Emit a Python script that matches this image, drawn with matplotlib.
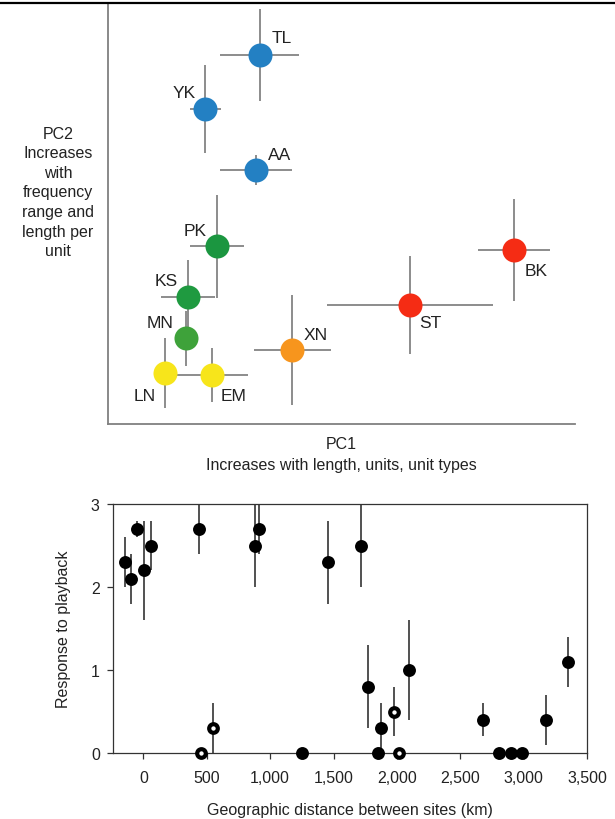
import numpy as np
import matplotlib
matplotlib.use("Agg")
from matplotlib import pyplot as plt
from matplotlib.lines import Line2D
from matplotlib.ticker import FuncFormatter

plt.rcParams['font.family'] = ['Liberation Sans', 'DejaVu Sans']
plt.rcParams['font.size'] = 11.5

# --- top panel: song PCA, site means with error bars (arbitrary PC units)
sites = ['TL', 'YK', 'AA', 'PK', 'KS', 'MN', 'LN', 'EM', 'XN', 'ST', 'BK']
pc1 = [3.25, 2.08, 3.17, 2.33, 1.71, 1.67, 1.22, 2.23, 3.95, 6.47, 8.70]
pc1_err = [0.85, 0.33, 0.78, 0.58, 0.58, 0.10, 0.20, 0.77, 0.82, 1.78, 0.77]
pc2 = [8.79, 7.50, 6.05, 4.23, 3.03, 2.04, 1.21, 1.17, 1.76, 2.83, 4.14]
pc2_err = [1.10, 1.05, 0.36, 1.23, 0.88, 0.65, 0.84, 0.65, 1.31, 1.17, 1.22]
site_colors = ['#2380c3', '#2380c3', '#2380c3', '#1b9640', '#1f9a40', '#3ea23a',
               '#f7e51b', '#f7e51b', '#f7951d', '#f52c14', '#f52c14']
# where each site name sits relative to its dot (points)
label_offsets = [(15.6, 12.5), (-15, 12), (17.3, 11.3), (-15.6, 11.2),
                 (-15.6, 11.5), (-18.7, 11.5), (-14.4, -16.3), (15.1, -15.1),
                 (17, 11), (14.2, -12.5), (15.6, -14.9)]

# --- bottom panel: playback response vs distance
dist_closed = [-146, -98, -49, 6, 57, 440, 878, 912, 1253, 1455, 1720, 1770,
               1849, 1878, 2098, 2679, 2807, 2899, 2991, 3175, 3348]
resp_closed = [2.3, 2.1, 2.7, 2.2, 2.5, 2.7, 2.5, 2.7, 0.0, 2.3, 2.5, 0.8,
               0.0, 0.3, 1.0, 0.4, 0.0, 0.0, 0.0, 0.4, 1.1]
err_closed = [0.3, 0.3, 0.1, 0.6, 0.3, 0.3, 0.5, 0.3, 0.0, 0.5, 0.5, 0.5,
              0.0, 0.3, 0.6, 0.2, 0.0, 0.0, 0.0, 0.3, 0.3]
dist_open = [455, 550, 1980, 2014]
resp_open = [0.0, 0.3, 0.5, 0.0]
err_open = [0.0, 0.3, 0.3, 0.0]
x_ticks = [0, 500, 1000, 1500, 2000, 2500, 3000, 3500]
y_ticks = [0, 1, 2, 3]


def drawPCA(fig):
    ax = fig.add_axes([108 / 615, 1 - 425 / 820, 467 / 615, 420 / 820])
    ax.errorbar(pc1, pc2, xerr=pc1_err, yerr=pc2_err, fmt='none',
                ecolor='#6e6e6e', elinewidth=1.1, capsize=0, zorder=1)
    for i, name in enumerate(sites):
        ax.plot(pc1[i], pc2[i], 'o', ms=17.3, mew=0, color=site_colors[i], zorder=3)
        ax.annotate(name, (pc1[i], pc2[i]), xytext=label_offsets[i],
                    textcoords='offset points', ha='center', va='center',
                    fontsize=12.5, color='#222222')
    ax.set_xlim(0, 10)
    ax.set_ylim(0, 10)
    for side in ['top', 'right']:
        ax.spines[side].set_visible(False)
    for side in ['left', 'bottom']:
        ax.spines[side].set_color('#808080')
        ax.spines[side].set_linewidth(1.3)
    ax.set_xticks([])
    ax.set_yticks([])
    ax.set_xlabel('PC1\nIncreases with length, units, unit types',
                  labelpad=9, linespacing=1.5, color='#222222')
    fig.text(58 / 615, 1 - 193 / 820,
             'PC2\nIncreases\nwith\nfrequency\nrange and\nlength per\nunit',
             ha='center', va='center', linespacing=1.38, color='#222222')


def drawPlayback(fig):
    ax = fig.add_axes([113 / 615, 1 - 754 / 820, 474 / 615, 249 / 820])
    ax.errorbar(dist_closed, resp_closed, yerr=err_closed, fmt='none',
                ecolor='#333333', elinewidth=1.2, capsize=0, zorder=1)
    ax.errorbar(dist_open, resp_open, yerr=err_open, fmt='none',
                ecolor='#333333', elinewidth=1.2, capsize=0, zorder=1)
    ax.plot(dist_closed, resp_closed, 'o', ms=9.3, mew=0, color='black',
            clip_on=False, zorder=3)
    ax.plot(dist_open, resp_open, 'o', ms=6.2, mew=3, mfc='white', mec='black',
            clip_on=False, zorder=3)
    ax.set_xlim(-240, 3500)
    ax.set_ylim(0, 3)
    ax.set_xticks(x_ticks)
    ax.set_yticks(y_ticks)
    ax.xaxis.set_major_formatter(FuncFormatter(lambda v, p: f'{int(v):,}'))
    ax.tick_params(direction='out', length=4.5, width=0.9, pad=5,
                   color='#333333', labelcolor='#222222')
    ax.tick_params(axis='x', pad=8)
    for side in ax.spines:
        ax.spines[side].set_linewidth(0.9)
        ax.spines[side].set_color('#333333')
    ax.set_xlabel('Geographic distance between sites (km)', labelpad=12,
                  color='#222222')
    ax.set_ylabel('Response to playback', labelpad=14, color='#222222')


def main():
    fig = plt.figure(figsize=(6.15, 8.2), dpi=100)
    fig.add_artist(Line2D([0, 1], [1 - 4.3 / 820] * 2, transform=fig.transFigure,
                          color='black', lw=1.6))
    drawPCA(fig)
    drawPlayback(fig)
    fig.savefig('out.png', dpi=100)


if __name__ == '__main__':
    main()
